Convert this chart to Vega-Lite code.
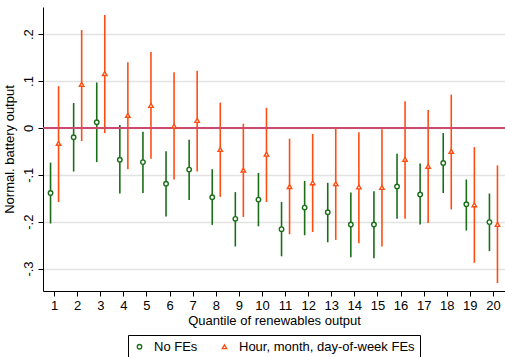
{
  "$schema": "https://vega.github.io/schema/vega-lite/v6.json",
  "autosize": "none",
  "width": 462,
  "height": 284,
  "padding": {"left": 43, "top": 7, "right": 0, "bottom": 66},
  "background": "white",
  "config": {
    "view": {"stroke": null},
    "font": "Liberation Sans",
    "axis": {"domainColor": "black", "tickColor": "black", "labelColor": "black", "titleColor": "black", "labelFont": "Liberation Sans", "titleFont": "Liberation Sans", "labelFontSize": 13, "titleFontSize": 13, "titleFontWeight": "normal", "tickSize": 5, "domainWidth": 1, "tickWidth": 1},
    "legend": {"strokeColor": "black", "fillColor": "white", "padding": 5, "labelFontSize": 13, "labelFont": "Liberation Sans", "labelColor": "black", "labelLimit": 400, "columnPadding": 20, "symbolSize": 20, "symbolStrokeWidth": 1.3, "symbolFillColor": "white", "labelOffset": 8}
  },
  "data": {"values": [
    {"q": 1, "s": "No FEs", "est": -0.139, "lo": -0.204, "hi": -0.074},
    {"q": 2, "s": "No FEs", "est": -0.020, "lo": -0.093, "hi": 0.053},
    {"q": 3, "s": "No FEs", "est": 0.012, "lo": -0.073, "hi": 0.097},
    {"q": 4, "s": "No FEs", "est": -0.068, "lo": -0.140, "hi": 0.006},
    {"q": 5, "s": "No FEs", "est": -0.073, "lo": -0.139, "hi": -0.008},
    {"q": 6, "s": "No FEs", "est": -0.119, "lo": -0.189, "hi": -0.050},
    {"q": 7, "s": "No FEs", "est": -0.089, "lo": -0.154, "hi": -0.025},
    {"q": 8, "s": "No FEs", "est": -0.148, "lo": -0.207, "hi": -0.088},
    {"q": 9, "s": "No FEs", "est": -0.194, "lo": -0.253, "hi": -0.137},
    {"q": 10, "s": "No FEs", "est": -0.153, "lo": -0.210, "hi": -0.096},
    {"q": 11, "s": "No FEs", "est": -0.216, "lo": -0.274, "hi": -0.158},
    {"q": 12, "s": "No FEs", "est": -0.170, "lo": -0.229, "hi": -0.113},
    {"q": 13, "s": "No FEs", "est": -0.180, "lo": -0.244, "hi": -0.117},
    {"q": 14, "s": "No FEs", "est": -0.206, "lo": -0.276, "hi": -0.138},
    {"q": 15, "s": "No FEs", "est": -0.206, "lo": -0.278, "hi": -0.135},
    {"q": 16, "s": "No FEs", "est": -0.125, "lo": -0.194, "hi": -0.055},
    {"q": 17, "s": "No FEs", "est": -0.142, "lo": -0.206, "hi": -0.076},
    {"q": 18, "s": "No FEs", "est": -0.075, "lo": -0.139, "hi": -0.011},
    {"q": 19, "s": "No FEs", "est": -0.163, "lo": -0.219, "hi": -0.110},
    {"q": 20, "s": "No FEs", "est": -0.201, "lo": -0.263, "hi": -0.140},
    {"q": 1, "s": "Hour, month, day-of-week FEs", "est": -0.033, "lo": -0.158, "hi": 0.089},
    {"q": 2, "s": "Hour, month, day-of-week FEs", "est": 0.093, "lo": -0.028, "hi": 0.209},
    {"q": 3, "s": "Hour, month, day-of-week FEs", "est": 0.116, "lo": -0.011, "hi": 0.241},
    {"q": 4, "s": "Hour, month, day-of-week FEs", "est": 0.027, "lo": -0.088, "hi": 0.140},
    {"q": 5, "s": "Hour, month, day-of-week FEs", "est": 0.048, "lo": -0.066, "hi": 0.162},
    {"q": 6, "s": "Hour, month, day-of-week FEs", "est": 0.004, "lo": -0.110, "hi": 0.119},
    {"q": 7, "s": "Hour, month, day-of-week FEs", "est": 0.016, "lo": -0.093, "hi": 0.122},
    {"q": 8, "s": "Hour, month, day-of-week FEs", "est": -0.046, "lo": -0.147, "hi": 0.054},
    {"q": 9, "s": "Hour, month, day-of-week FEs", "est": -0.090, "lo": -0.190, "hi": 0.009},
    {"q": 10, "s": "Hour, month, day-of-week FEs", "est": -0.056, "lo": -0.158, "hi": 0.043},
    {"q": 11, "s": "Hour, month, day-of-week FEs", "est": -0.125, "lo": -0.227, "hi": -0.023},
    {"q": 12, "s": "Hour, month, day-of-week FEs", "est": -0.117, "lo": -0.222, "hi": -0.013},
    {"q": 13, "s": "Hour, month, day-of-week FEs", "est": -0.119, "lo": -0.239, "hi": 0.000},
    {"q": 14, "s": "Hour, month, day-of-week FEs", "est": -0.126, "lo": -0.246, "hi": -0.009},
    {"q": 15, "s": "Hour, month, day-of-week FEs", "est": -0.127, "lo": -0.253, "hi": -0.003},
    {"q": 16, "s": "Hour, month, day-of-week FEs", "est": -0.067, "lo": -0.194, "hi": 0.057},
    {"q": 17, "s": "Hour, month, day-of-week FEs", "est": -0.082, "lo": -0.203, "hi": 0.038},
    {"q": 18, "s": "Hour, month, day-of-week FEs", "est": -0.050, "lo": -0.174, "hi": 0.071},
    {"q": 19, "s": "Hour, month, day-of-week FEs", "est": -0.164, "lo": -0.288, "hi": -0.041},
    {"q": 20, "s": "Hour, month, day-of-week FEs", "est": -0.206, "lo": -0.331, "hi": -0.080}
  ]},
  "encoding": {
    "x": {"field": "q", "type": "ordinal", "scale": {"paddingInner": 0, "paddingOuter": 0},
          "axis": {"title": "Quantile of renewables output", "labelAngle": 0, "labelPadding": 3, "titlePadding": 2, "grid": false}},
    "xOffset": {"field": "s", "type": "nominal", "sort": ["No FEs", "Hour, month, day-of-week FEs"], "scale": {"paddingInner": 0, "paddingOuter": 0.44}},
    "color": {"field": "s", "type": "nominal", "scale": {"domain": ["No FEs", "Hour, month, day-of-week FEs"], "range": ["#1a6e1a", "#ff4d12"]},
              "legend": {"title": null, "orient": "none", "legendX": 85, "legendY": 328, "direction": "horizontal"}}
  },
  "layer": [
    {
      "mark": {"type": "rule", "strokeWidth": 1.6},
      "encoding": {
        "y": {"field": "lo", "type": "quantitative", "scale": {"domain": [-0.348, 0.258], "nice": false, "zero": false},
              "axis": {"title": "Normal. battery output", "values": [-0.3, -0.2, -0.1, 0, 0.1, 0.2], "labelAngle": -90, "labelAlign": "center", "labelBaseline": "bottom", "labelPadding": 3, "titlePadding": 6, "grid": true, "gridColor": "#e2e2e2", "gridWidth": 1.5,
                       "labelExpr": "datum.value == 0 ? '0' : (datum.value < 0 ? '-' : '') + '.' + format(abs(datum.value) * 10, '.0f')"}},
        "y2": {"field": "hi"}
      }
    },
    {
      "mark": {"type": "rule", "color": "#cc4a6e", "strokeWidth": 2},
      "encoding": {"y": {"datum": 0, "type": "quantitative"}, "xOffset": null, "x": null, "color": null}
    },
    {
      "mark": {"type": "point", "filled": false, "fill": "white", "strokeWidth": 1.4, "opacity": 1, "size": 20},
      "encoding": {
        "y": {"field": "est", "type": "quantitative"},
        "shape": {"field": "s", "type": "nominal", "scale": {"domain": ["No FEs", "Hour, month, day-of-week FEs"], "range": ["circle", "triangle-up"]},
                  "legend": {"title": null, "orient": "none", "legendX": 85, "legendY": 328, "direction": "horizontal"}}
      }
    }
  ]
}
